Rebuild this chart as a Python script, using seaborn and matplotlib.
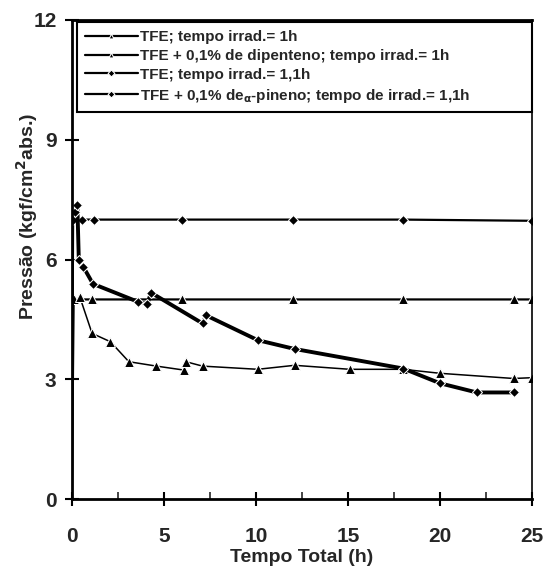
import pandas as pd
import matplotlib
matplotlib.use("Agg")
import matplotlib.pyplot as plt
from matplotlib.ticker import MultipleLocator
import seaborn as sns

# Data
tfe_1h_x = [0, 0.1, 1.1, 6, 12, 18, 24, 25]
tfe_1h_y = [0, 5.0, 5.0, 5.0, 5.0, 5.0, 5.0, 5.0]

dip_1h_x = [0.43, 1.1, 2.1, 3.1, 4.6, 6.1, 6.2, 7.1, 10.1, 12.1, 15.1, 18, 20, 24, 25]
dip_1h_y = [5.07, 4.15, 3.94, 3.44, 3.33, 3.23, 3.44, 3.33, 3.25, 3.35, 3.25, 3.25, 3.15, 3.02, 3.04]

tfe_11h_x = [0, 0.07, 0.55, 1.2, 6, 12, 18, 25]
tfe_11h_y = [0, 7.0, 7.0, 7.0, 7.0, 7.0, 7.0, 6.97]

pin_11h_x = [0.2, 0.3, 0.38, 0.62, 1.15, 3.6, 4.1, 4.3, 7.1, 7.3, 10.1, 12.1, 18, 20, 22, 24]
pin_11h_y = [7.2, 7.37, 6.0, 5.82, 5.39, 4.94, 4.88, 5.17, 4.4, 4.6, 3.98, 3.76, 3.27, 2.9, 2.67, 2.67]

labels = [
    "TFE; tempo irrad.= 1h",
    "TFE + 0,1% de dipenteno; tempo irrad.= 1h",
    "TFE; tempo irrad.= 1,1h",
    r"TFE + 0,1% de$_{\alpha}$-pineno; tempo de irrad.= 1,1h",
]

sns.set_style("ticks")
plt.rcParams['font.family'] = ['Liberation Sans', 'DejaVu Sans']
plt.rcParams['font.weight'] = 'bold'
plt.rcParams['mathtext.default'] = 'bf'

fig = plt.figure(figsize=(5.44, 5.71), dpi=100)
ax = fig.add_axes([0.132, 0.126, 0.846, 0.839])

sns.lineplot(x=tfe_1h_x, y=tfe_1h_y, ax=ax, color='black', lw=1.6, marker='^', ms=6.5,
             markevery=list(range(1, len(tfe_1h_x))), sort=False, estimator=None,
             label=labels[0])
sns.lineplot(x=dip_1h_x, y=dip_1h_y, ax=ax, color='black', lw=1.1, marker='^', ms=6.5,
             sort=False, estimator=None, label=labels[1])
sns.lineplot(x=tfe_11h_x, y=tfe_11h_y, ax=ax, color='black', lw=1.6, marker='D', ms=4.8,
             markevery=list(range(1, len(tfe_11h_x))), sort=False, estimator=None,
             label=labels[2])
sns.lineplot(x=pin_11h_x, y=pin_11h_y, ax=ax, color='black', lw=2.8, marker='D', ms=5.2,
             sort=False, estimator=None, label=labels[3])

ax.set_xlim(0, 25)
ax.set_ylim(0, 12)
ax.xaxis.set_major_locator(MultipleLocator(5))
ax.xaxis.set_minor_locator(MultipleLocator(2.5))
ax.yaxis.set_major_locator(MultipleLocator(3))
ax.tick_params(axis='both', which='major', direction='inout', length=10, width=1.5,
               labelsize=15, color='black')
ax.tick_params(axis='x', which='major', pad=15)
ax.tick_params(axis='y', which='major', pad=6)
ax.tick_params(axis='x', which='minor', direction='in', length=5, width=1.2)
for lab in ax.get_xticklabels() + ax.get_yticklabels():
    lab.set_fontweight('bold')

for side in ['left', 'bottom', 'top']:
    ax.spines[side].set_linewidth(2.0)
    ax.spines[side].set_color('black')
ax.spines['right'].set_linewidth(1.2)
ax.spines['right'].set_color('black')

ax.set_xlabel("Tempo Total (h)", fontsize=14, fontweight='bold', labelpad=2)
ax.set_ylabel(r"Pressão (kgf/cm$^{2}$abs.)", fontsize=14, fontweight='bold')
ax.yaxis.set_label_coords(-0.07, 0.59)

leg = ax.legend(loc='upper left', bbox_to_anchor=(0.011, 0.995, 0.989, 0), mode='expand',
                fontsize=11, frameon=True, fancybox=False, edgecolor='black', framealpha=1,
                borderpad=0.5, labelspacing=0.32, handlelength=3.5, handletextpad=0.15,
                borderaxespad=0.0)
leg.get_frame().set_linewidth(1.5)
for txt in leg.get_texts():
    txt.set_fontweight('bold')
for h in leg.legend_handles:
    h.set_markersize(3.5)
    h.set_linewidth(1.6)

fig.savefig("out.png", dpi=100)
